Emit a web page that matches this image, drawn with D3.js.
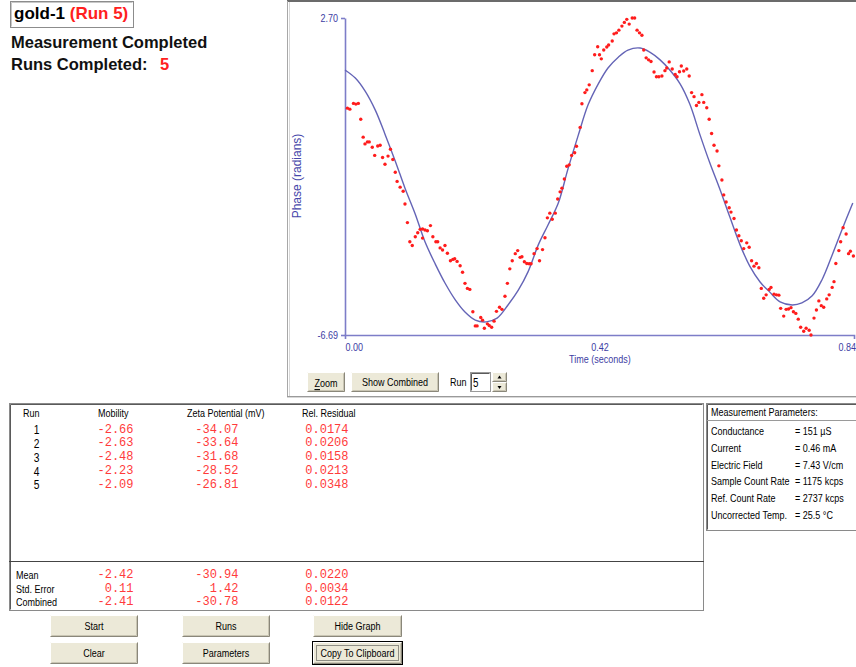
<!DOCTYPE html>
<html>
<head>
<meta charset="utf-8">
<script src="https://cdn.jsdelivr.net/npm/d3@7"></script>
<style>
  body { margin: 0; background: #fff; }
  svg { display: block; }
  /* no narrow face installed, so squeeze Liberation Sans instead */
  .ui { font-family: "Liberation Sans", Arial, sans-serif; font-size: 11px; fill: #000;
        transform-box: fill-box; transform: scaleX(0.82); transform-origin: left center; }
  .ui.mid { transform-origin: center center; }
  .ui.end { transform-origin: right center; }
  .ui.axis { fill: #3d3da3; }
  .mono { font-family: "Liberation Mono", "Courier New", monospace; font-size: 12px; fill: #ff3b3b; }
  .head { font-family: "Liberation Sans", Arial, sans-serif; font-weight: bold; }
</style>
</head>
<body>
<div id="chart"></div>
<script>
// ---- chart data ----
const xTickValues = [0, 0.42, 0.84];
const xTickLabels = ['0.00', '0.42', '0.84'];
const yTickValues = [2.70, -6.69];
const yTickLabels = ['2.70', '-6.69'];

// fitted phase curve
const fitTime = [0, 0.017, 0.033, 0.050, 0.066, 0.083, 0.099, 0.116, 0.132, 0.149, 0.165, 0.182, 0.198, 0.215, 0.233, 0.251, 0.269, 0.286, 0.302, 0.319, 0.335, 0.352, 0.368, 0.385, 0.401, 0.418, 0.434, 0.451, 0.467, 0.487, 0.503, 0.520, 0.536, 0.553, 0.569, 0.586, 0.602, 0.619, 0.635, 0.652, 0.668, 0.685, 0.701, 0.718, 0.738, 0.754, 0.771, 0.787, 0.804, 0.820, 0.838];
const fitPhase = [1.16, 0.92, 0.54, -0.03, -0.74, -1.54, -2.34, -3.11, -3.93, -4.59, -5.15, -5.65, -6.01, -6.25, -6.30, -6.19, -5.80, -5.36, -4.82, -4.02, -3.43, -2.78, -1.77, -0.77, 0.12, 0.75, 1.22, 1.54, 1.75, 1.81, 1.69, 1.46, 1.16, 0.75, 0.15, -0.77, -1.59, -2.39, -3.19, -4.02, -4.65, -5.12, -5.42, -5.71, -5.80, -5.74, -5.53, -5.06, -4.32, -3.58, -2.78];

// measured phase points
const dotTime = [0.004, 0.008, 0.014, 0.018, 0.022, 0.026, 0.030, 0.033, 0.037, 0.040,
  0.045, 0.049, 0.054, 0.058, 0.062, 0.066, 0.071, 0.075, 0.079, 0.083,
  0.086, 0.091, 0.096, 0.099, 0.103, 0.107, 0.111, 0.116, 0.120, 0.124,
  0.128, 0.128, 0.132, 0.136, 0.141, 0.145, 0.150, 0.153, 0.157, 0.161,
  0.165, 0.169, 0.174, 0.178, 0.181, 0.185, 0.190, 0.194, 0.198, 0.202,
  0.206, 0.211, 0.215, 0.218, 0.224, 0.227, 0.230, 0.235, 0.238, 0.242,
  0.246, 0.250, 0.255, 0.259, 0.264, 0.268, 0.272, 0.276, 0.281, 0.285,
  0.289, 0.292, 0.296, 0.300, 0.304, 0.307, 0.312, 0.317, 0.321, 0.326,
  0.330, 0.334, 0.338, 0.342, 0.347, 0.351, 0.355, 0.358, 0.362, 0.366,
  0.370, 0.374, 0.379, 0.382, 0.388, 0.391, 0.396, 0.399, 0.403, 0.408,
  0.412, 0.417, 0.420, 0.423, 0.427, 0.432, 0.435, 0.441, 0.444, 0.448,
  0.452, 0.457, 0.461, 0.465, 0.469, 0.474, 0.478, 0.482, 0.486, 0.490,
  0.493, 0.497, 0.501, 0.505, 0.510, 0.514, 0.518, 0.523, 0.528, 0.531,
  0.535, 0.540, 0.545, 0.548, 0.552, 0.555, 0.559, 0.564, 0.568, 0.572,
  0.576, 0.580, 0.584, 0.589, 0.592, 0.597, 0.601, 0.605, 0.609, 0.614,
  0.617, 0.622, 0.625, 0.629, 0.634, 0.637, 0.642, 0.646, 0.650, 0.654,
  0.658, 0.663, 0.667, 0.671, 0.675, 0.679, 0.683, 0.687, 0.691, 0.695,
  0.700, 0.703, 0.708, 0.712, 0.716, 0.719, 0.724, 0.728, 0.732, 0.736,
  0.740, 0.744, 0.748, 0.752, 0.757, 0.761, 0.766, 0.769, 0.774, 0.778,
  0.782, 0.786, 0.790, 0.795, 0.799, 0.804, 0.807, 0.810, 0.815, 0.818,
  0.822, 0.827, 0.831, 0.834, 0.839];
const dotPhase = [0.03, 0.00, 0.17, 0.15, 0.17, -0.30, -0.83, -1.03, -0.97, -0.97,
  -1.13, -1.37, -1.09, -1.07, -1.43, -1.63, -1.39, -1.19, -1.49, -1.87,
  -2.14, -2.31, -2.43, -2.81, -3.36, -3.93, -4.04, -3.78, -3.66, -3.56,
  -3.55, -3.82, -3.58, -3.60, -3.45, -3.78, -3.93, -3.93, -4.11, -4.17,
  -4.04, -4.27, -4.49, -4.45, -4.43, -4.51, -4.64, -4.83, -5.16, -5.31,
  -5.34, -6.00, -6.42, -6.42, -6.17, -6.25, -6.49, -6.36, -6.41, -6.46,
  -6.28, -5.99, -5.87, -5.93, -5.54, -5.16, -4.73, -4.49, -4.28, -4.19,
  -4.39, -4.37, -4.52, -4.57, -4.58, -4.58, -4.28, -4.13, -4.49, -4.16,
  -3.81, -3.22, -3.08, -3.26, -3.08, -2.66, -2.45, -2.34, -2.07, -1.69,
  -1.65, -1.37, -1.29, -1.10, -0.54, 0.16, 0.49, 0.57, 0.72, 1.14,
  1.61, 1.85, 1.61, 1.49, 1.75, 1.84, 1.90, 2.02, 2.23, 2.26,
  2.34, 2.46, 2.57, 2.66, 2.52, 2.70, 2.70, 2.34, 2.26, 2.19,
  1.75, 1.52, 1.46, 1.41, 1.10, 0.96, 0.96, 0.98, 1.14, 1.22,
  1.40, 1.19, 1.03, 0.96, 1.11, 1.28, 1.13, 1.19, 0.98, 0.49,
  0.37, 0.11, 0.20, 0.43, 0.20, 0.04, -0.30, -0.72, -1.07, -1.24,
  -1.68, -2.10, -2.54, -2.75, -2.92, -3.05, -3.24, -3.58, -3.75, -3.90,
  -4.13, -3.96, -4.09, -4.49, -4.65, -4.57, -4.70, -5.31, -5.60, -5.50,
  -5.34, -5.28, -5.48, -5.50, -5.51, -5.90, -6.13, -5.93, -5.92, -5.88,
  -6.00, -6.05, -6.22, -6.46, -6.58, -6.49, -6.55, -6.69, -6.19, -5.95,
  -5.68, -5.82, -5.87, -5.62, -5.50, -5.28, -5.11, -4.57, -4.19, -3.93,
  -3.51, -3.70, -4.28, -4.21, -4.35];

// ---- results table data ----
const runNumbers = ['1', '2', '3', '4', '5'];
const mobility = [-2.66, -2.63, -2.48, -2.23, -2.09];
const zeta = [-34.07, -33.64, -31.68, -28.52, -26.81];
const residual = [0.0174, 0.0206, 0.0158, 0.0213, 0.0348];
const summaryLabels = ['Mean', 'Std. Error', 'Combined'];
const summaryMobility = [-2.42, 0.11, -2.41];
const summaryZeta = [-30.94, 1.42, -30.78];
const summaryResidual = [0.0220, 0.0034, 0.0122];
const columnHeaders = ['Run', 'Mobility', 'Zeta Potential (mV)', 'Rel. Residual'];

const paramLabels = ['Conductance', 'Current', 'Electric Field', 'Sample Count Rate', 'Ref. Count Rate', 'Uncorrected Temp.'];
const paramValues = ['= 151 \u00b5S', '= 0.46 mA', '= 7.43 V/cm', '= 1175 kcps', '= 2737 kcps', '= 25.5 \u00b0C'];

// ---- layout ----
const plot = { left: 345, right: 854, top: 18, bottom: 335 };
const axisColor = '#7d7dc8';

var svg = d3.select('#chart').append('svg')
  .attr('width', 856)
  .attr('height', 667)
  .attr('viewBox', '0 0 856 667');

function drawButton(g, x, y, w, h, label, focused) {
  var b = g.append('g').attr('transform', `translate(${x},${y})`);
  b.append('rect').attr('width', w).attr('height', h).attr('fill', '#ece9d8');
  // 3d edges
  b.append('path').attr('d', `M0.5,${h - 0.5}V0.5H${w - 0.5}`).attr('fill', 'none').attr('stroke', '#fff');
  b.append('path').attr('d', `M0.5,${h - 0.5}H${w - 0.5}V0.5`).attr('fill', 'none').attr('stroke', '#8a877a');
  b.append('path').attr('d', `M1.5,${h - 1.5}H${w - 1.5}V1.5`).attr('fill', 'none').attr('stroke', '#c9c5b3');
  if (focused) {
    b.append('rect').attr('x', -0.5).attr('y', -0.5).attr('width', w + 1).attr('height', h + 1)
      .attr('fill', 'none').attr('stroke', '#000');
    b.append('rect').attr('x', 3.5).attr('y', 3.5).attr('width', w - 7).attr('height', h - 7)
      .attr('fill', 'none').attr('stroke', '#333').attr('stroke-dasharray', '1,1');
  }
  if (!label) return b;
  var t = b.append('text').attr('class', 'ui mid')
    .attr('x', w / 2).attr('y', h / 2 + 0.5)
    .attr('text-anchor', 'middle').attr('dominant-baseline', 'central');
  if (label === 'Zoom') {
    t.append('tspan').style('text-decoration', 'underline').text('Z');
    t.append('tspan').text('oom');
  } else {
    t.text(label);
  }
  return b;
}

// -----------------------------------------------------------------------
// header texts
// -----------------------------------------------------------------------
function drawHeader() {
  var g = svg.append('g');
  g.append('rect').attr('x', 10.5).attr('y', 1.5).attr('width', 123).attr('height', 26)
    .attr('fill', '#fff').attr('stroke', '#8c8c8c');
  g.append('path').attr('d', 'M11.5,26.5V2.5H132.5').attr('fill', 'none').attr('stroke', '#c8c8c8');

  var title = g.append('text').attr('class', 'head').attr('x', 14).attr('y', 19).style('font-size', '17px');
  title.append('tspan').attr('fill', '#000').text('gold-1 ');
  title.append('tspan').attr('fill', '#ff2020').text('(Run 5)');

  g.append('text').attr('class', 'head').attr('x', 11).attr('y', 47.5)
    .style('font-size', '16.5px').attr('fill', '#111').text('Measurement Completed');
  g.append('text').attr('class', 'head').attr('x', 11).attr('y', 69.5)
    .style('font-size', '16.5px').attr('fill', '#111').text('Runs Completed:');
  g.append('text').attr('class', 'head').attr('x', 160).attr('y', 69.5)
    .style('font-size', '16.5px').attr('fill', '#ff2020').text(runNumbers.length);
}

// -----------------------------------------------------------------------
// phase plot
// -----------------------------------------------------------------------
function drawPlot() {
  var g = svg.append('g');

  // sunken panel frame
  g.append('line').attr('x1', 287).attr('x2', 856).attr('y1', 1).attr('y2', 1).attr('stroke', '#3a3a3a').attr('stroke-width', 1.5);
  g.append('line').attr('x1', 287.5).attr('x2', 287.5).attr('y1', 1).attr('y2', 397).attr('stroke', '#a8a8a8');
  g.append('line').attr('x1', 289.5).attr('x2', 289.5).attr('y1', 2).attr('y2', 396).attr('stroke', '#d8d8d8');
  g.append('line').attr('x1', 287).attr('x2', 856).attr('y1', 396.5).attr('y2', 396.5).attr('stroke', '#9a9a9a');
  g.append('line').attr('x1', 287).attr('x2', 856).attr('y1', 397.5).attr('y2', 397.5).attr('stroke', '#d8d8d8');

  var xScale = d3.scaleLinear().domain([0, 0.84]).range([plot.left, plot.right]);
  var yScale = d3.scaleLinear().domain([-6.69, 2.70]).range([plot.bottom, plot.top]);

  var yAxis = d3.axisLeft(yScale)
    .tickValues(yTickValues)
    .tickFormat(function(d, i) { return yTickLabels[i]; })
    .tickSizeInner(4)
    .tickSizeOuter(0);
  var yg = g.append('g')
    .attr('class', 'chart__axis chart__axis--y')
    .attr('transform', `translate(${plot.left},0)`)
    .call(yAxis);

  var xAxis = d3.axisBottom(xScale)
    .tickValues(xTickValues)
    .tickFormat(function(d, i) { return xTickLabels[i]; })
    .tickSizeInner(0)
    .tickSizeOuter(4);
  var xg = g.append('g')
    .attr('class', 'chart__axis chart__axis--x')
    .attr('transform', `translate(0,${plot.bottom})`)
    .call(xAxis);

  [xg, yg].forEach(function(a) {
    a.selectAll('path, line').attr('stroke', axisColor).attr('stroke-width', 1.6);
  });
  yg.selectAll('text').attr('class', 'ui end axis').attr('text-anchor', 'end');
  var last = xTickValues.length - 1;
  xg.selectAll('text')
    .attr('class', function(d, i) { return i === 0 || i === last ? 'ui axis' : 'ui mid axis'; })
    .attr('y', 12)
    .attr('dy', 0)
    .attr('dominant-baseline', 'central')
    .attr('text-anchor', function(d, i) { return i === 0 || i === last ? 'start' : 'middle'; })
    .attr('x', function(d, i) { return i === last ? -16 : 0; });

  // axis titles
  g.append('text')
    .attr('transform', 'translate(297,176) rotate(-90)')
    .attr('text-anchor', 'middle').attr('dominant-baseline', 'central')
    .style('font-family', '"Liberation Sans", Arial, sans-serif').style('font-size', '12px')
    .attr('fill', '#4646aa')
    .text('Phase (radians)');
  g.append('text').attr('class', 'ui mid axis')
    .attr('x', 600).attr('y', 359)
    .attr('text-anchor', 'middle').attr('dominant-baseline', 'central')
    .text('Time (seconds)');

  // fitted curve
  var fit = d3.zip(fitTime, fitPhase);
  var line = d3.line()
    .x(function(d) { return xScale(d[0]); })
    .y(function(d) { return yScale(d[1]); })
    .curve(d3.curveCatmullRom);
  g.append('path')
    .datum(fit)
    .attr('d', line)
    .attr('fill', 'none')
    .attr('stroke', '#6464b6')
    .attr('stroke-width', 1.4);

  // measured points
  var dots = d3.zip(dotTime, dotPhase);
  g.append('g').selectAll('circle')
    .data(dots)
    .enter().append('circle')
    .attr('cx', function(d) { return xScale(d[0]); })
    .attr('cy', function(d) { return yScale(d[1]); })
    .attr('r', 1.7)
    .attr('fill', '#ff1c1c');

  // controls under the plot
  drawButton(g, 307, 372, 38, 20, 'Zoom');
  drawButton(g, 351, 372, 88, 20, 'Show Combined');
  g.append('text').attr('class', 'ui').attr('x', 450).attr('y', 382.5)
    .attr('dominant-baseline', 'central').text('Run');
  g.append('rect').attr('x', 470.5).attr('y', 372.5).attr('width', 20).attr('height', 19)
    .attr('fill', '#fff').attr('stroke', '#9a9a9a');
  g.append('path').attr('d', 'M471.5,390.5V373.5H489.5').attr('fill', 'none').attr('stroke', '#5a5a5a');
  g.append('text').attr('class', 'ui').attr('x', 473).attr('y', 382.5)
    .attr('dominant-baseline', 'central').style('font-size', '12px').text(runNumbers[runNumbers.length - 1]);
  drawButton(g, 492, 372, 15, 10, '');
  drawButton(g, 492, 382, 15, 10, '');
  g.append('path').attr('d', 'M497.5,378.5L499.5,375.5L501.5,378.5Z').attr('fill', '#000');
  g.append('path').attr('d', 'M497.5,386L499.5,389L501.5,386Z').attr('fill', '#000');
}

// -----------------------------------------------------------------------
// results table and parameters
// -----------------------------------------------------------------------
function drawTable() {
  var g = svg.append('g');
  var rowY = d3.range(runNumbers.length).map(function(i) { return 429.5 + i * 13.9; });
  var sumY = [575, 588.7, 602.3];
  var valueRight = [133.5, 238.5, 348.5];

  g.append('rect').attr('x', 9.5).attr('y', 403.5).attr('width', 694).attr('height', 207)
    .attr('fill', '#fff').attr('stroke', '#8a8a8a');
  g.append('path').attr('d', 'M10.5,609.5V404.5H702.5').attr('fill', 'none').attr('stroke', '#5a5a5a');
  g.append('line').attr('x1', 9).attr('x2', 704).attr('y1', 561.5).attr('y2', 561.5).attr('stroke', '#444');

  var headerX = [23, 98, 187, 302];
  g.selectAll('.colhead').data(columnHeaders).enter().append('text')
    .attr('class', 'ui colhead')
    .attr('x', function(d, i) { return headerX[i]; })
    .attr('y', 413)
    .attr('dominant-baseline', 'central')
    .text(function(d) { return d; });

  g.selectAll('.runno').data(runNumbers).enter().append('text')
    .attr('class', 'ui mid runno')
    .attr('x', 36.5)
    .attr('y', function(d, i) { return rowY[i]; })
    .attr('text-anchor', 'middle').attr('dominant-baseline', 'central')
    .style('font-size', '12.5px')
    .text(function(d) { return d; });

  function valueColumn(values, digits, ys, col) {
    g.append('g').selectAll('text').data(values).enter().append('text')
      .attr('class', 'mono')
      .attr('x', valueRight[col])
      .attr('y', function(d, i) { return ys[i]; })
      .attr('text-anchor', 'end').attr('dominant-baseline', 'central')
      .text(function(d) { return d.toFixed(digits); });
  }
  valueColumn(mobility, 2, rowY, 0);
  valueColumn(zeta, 2, rowY, 1);
  valueColumn(residual, 4, rowY, 2);
  valueColumn(summaryMobility, 2, sumY, 0);
  valueColumn(summaryZeta, 2, sumY, 1);
  valueColumn(summaryResidual, 4, sumY, 2);

  g.selectAll('.sumlabel').data(summaryLabels).enter().append('text')
    .attr('class', 'ui sumlabel')
    .attr('x', 16)
    .attr('y', function(d, i) { return sumY[i]; })
    .attr('dominant-baseline', 'central')
    .text(function(d) { return d; });

  // buttons
  drawButton(svg, 50, 615, 88, 22, 'Start');
  drawButton(svg, 182, 615, 88, 22, 'Runs');
  drawButton(svg, 313, 615, 89, 22, 'Hide Graph');
  drawButton(svg, 50, 642, 88, 22, 'Clear');
  drawButton(svg, 182, 642, 88, 22, 'Parameters');
  drawButton(svg, 313, 642, 89, 22, 'Copy To Clipboard', true);

  // measurement parameters
  var p = svg.append('g');
  p.append('rect').attr('x', 706.5).attr('y', 403.5).attr('width', 152).attr('height', 127)
    .attr('fill', '#fff').attr('stroke', '#8a8a8a');
  p.append('path').attr('d', 'M707.5,529.5V404.5H856').attr('fill', 'none').attr('stroke', '#5a5a5a');
  p.append('line').attr('x1', 707).attr('x2', 856).attr('y1', 420.5).attr('y2', 420.5).attr('stroke', '#9a9a9a');
  p.append('text').attr('class', 'ui').attr('x', 711).attr('y', 412)
    .attr('dominant-baseline', 'central').text('Measurement Parameters:');
  var paramY = paramLabels.map(function(d, i) { return 431.3 + i * 16.7; });
  p.selectAll('.plabel').data(paramLabels).enter().append('text')
    .attr('class', 'ui plabel')
    .attr('x', 711)
    .attr('y', function(d, i) { return paramY[i]; })
    .attr('dominant-baseline', 'central')
    .text(function(d) { return d; });
  p.selectAll('.pvalue').data(paramValues).enter().append('text')
    .attr('class', 'ui pvalue')
    .attr('x', 795)
    .attr('y', function(d, i) { return paramY[i]; })
    .attr('dominant-baseline', 'central')
    .text(function(d) { return d; });
}

drawHeader();
drawPlot();
drawTable();
</script>
</body>
</html>
